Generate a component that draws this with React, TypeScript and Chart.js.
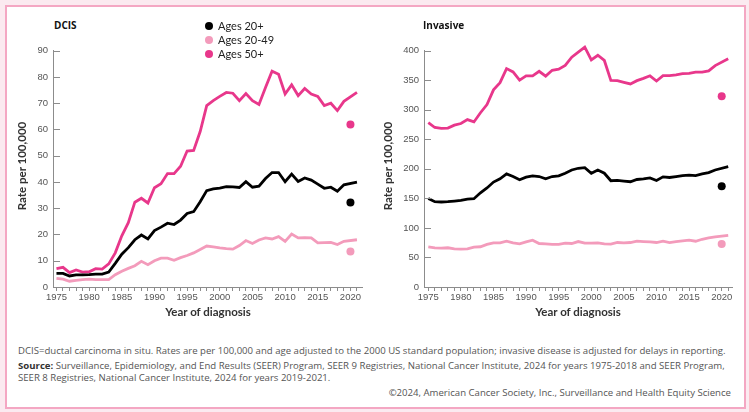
import React, { useEffect, useRef } from "react";
import { Chart, registerables } from "chart.js";

Chart.register(...registerables);

// ---------- data ----------
const years = [
  1975, 1976, 1977, 1978, 1979, 1980, 1981, 1982, 1983, 1984,
  1985, 1986, 1987, 1988, 1989, 1990, 1991, 1992, 1993, 1994,
  1995, 1996, 1997, 1998, 1999, 2000, 2001, 2002, 2003, 2004,
  2005, 2006, 2007, 2008, 2009, 2010, 2011, 2012, 2013, 2014,
  2015, 2016, 2017, 2018, 2019, 2020, 2021,
];
const dotYear = 2020;
const xTickLabels = [1975, 1980, 1985, 1990, 1995, 2000, 2005, 2010, 2015, 2020];

// DCIS (2020 shown separately as a dot)
const dcisAges20plus = [
  5.2, 5.2, 4.2, 4.6, 4.6, 4.7, 4.9, 4.9, 5.7, 9,
  12.5, 15, 18, 19.8, 18.3, 21.5, 22.8, 24.3, 23.8, 25.5,
  28, 28.7, 32.5, 36.7, 37.4, 37.7, 38.2, 38.1, 37.9, 40.1,
  38, 38.4, 41.3, 43.6, 43.6, 40.1, 43, 40.2, 41.5, 40.7,
  39.2, 37.6, 38, 36.5, 38.9, null, 39.9,
];
const dcisAges20to49 = [
  3.3, 3, 2.2, 2.5, 2.8, 3, 2.8, 2.8, 2.8, 4.7,
  6, 7.1, 8.1, 9.8, 8.5, 10, 11, 11, 10.2, 11.2,
  12, 13, 14.3, 15.6, 15.3, 14.9, 14.6, 14.4, 15.8, 17.7,
  16.6, 17.9, 18.7, 18.3, 19.2, 17.4, 20.2, 18.7, 18.8, 18.7,
  16.8, 16.9, 17, 16.2, 17.4, null, 18,
];
const dcisAges50plus = [
  7, 7.5, 5.5, 6.5, 5.7, 5.8, 7, 6.8, 8.8, 13,
  19.5, 24.5, 32.3, 33.8, 32, 37.8, 39.3, 43.2, 43.2, 46,
  51.8, 52, 59.2, 69.1, 71, 72.6, 74.1, 73.8, 71, 73.7,
  71, 69.5, 76, 82.2, 81, 73.5, 77, 72.9, 75.6, 73.5,
  72.6, 69.1, 70, 67.2, 70.7, null, 74.1,
];
const dcisDot2020 = { ages20plus: 32.2, ages20to49: 13.5, ages50plus: 61.9 };

// Invasive
const invAges20plus = [
  150, 144.4, 143.9, 144.4, 145.5, 146.7, 148.9, 149.4, 159.4, 167.7,
  177.6, 183.2, 191.5, 187, 181.5, 186, 188.2, 187, 183.2, 187,
  188.2, 192.6, 198.1, 201, 202, 192.6, 198.1, 192.6, 179.9, 180.4,
  179.3, 178.2, 182, 183.2, 184.8, 180.4, 186.5, 185.4, 187, 188.7,
  189.3, 188.7, 191.5, 193.7, 198.1, null, 203.6,
];
const invAges20to49 = [
  68.1, 66.4, 65.9, 66.4, 64.7, 64.2, 64.7, 67.5, 68.1, 72,
  74.7, 74.7, 77.5, 74.7, 73.1, 76.4, 79.2, 73.6, 73.1, 72,
  72, 74.2, 73.6, 76.9, 74.2, 74.2, 74.7, 73.1, 72.5, 75.3,
  74.7, 75.3, 77.5, 76.9, 76.4, 75.3, 77.5, 75.3, 76.9, 78,
  79.2, 77.5, 80.8, 83, 84.7, null, 87.4,
];
const invAges50plus = [
  278.4, 270, 268.4, 269, 274, 276.7, 283.3, 279.4, 295, 308.8,
  333.7, 345.9, 369.7, 364, 350.3, 357.5, 357.5, 365.2, 357, 366.9,
  368.6, 375.2, 389, 397.4, 406, 384.5, 392.3, 383.5, 349.8, 349.5,
  346.5, 343.7, 349.3, 353.1, 357.5, 348.7, 357.8, 357.8, 359, 361.3,
  361.5, 363.6, 363.6, 365.8, 374.8, null, 386.3,
];
const invDot2020 = { ages20plus: 170.4, ages20to49: 72.8, ages50plus: 322.7 };

const legendLabels = ["Ages 20+", "Ages 20-49", "Ages 50+"];

// ---------- styles ----------
const BLACK = "#000000";
const LIGHT = "#f39bbb";
const MAGENTA = "#e8378b";
const AXIS = "#8c8c8c";
const TICK_TEXT = "#555555";

const inwardTicks = {
  id: "inwardTicks",
  afterDraw(chart: any) {
    const { ctx, chartArea, scales } = chart;
    const y = scales.y;
    ctx.save();
    ctx.strokeStyle = AXIS;
    ctx.lineWidth = 1;
    y.ticks.forEach((t: any) => {
      const py = Math.round(y.getPixelForValue(t.value)) + 0.5;
      ctx.beginPath();
      ctx.moveTo(chartArea.left, py);
      ctx.lineTo(chartArea.left + 7, py);
      ctx.stroke();
    });
    ctx.restore();
  },
};

type PanelProps = {
  left: number;
  top: number;
  width: number;
  height: number;
  s20: (number | null)[];
  s2049: (number | null)[];
  s50: (number | null)[];
  dots: { ages20plus: number; ages20to49: number; ages50plus: number };
  yMax: number;
  yStep: number;
  xMin: number;
  xMax: number;
};

function Panel(p: PanelProps) {
  const ref = useRef<HTMLCanvasElement>(null);
  useEffect(() => {
    const toPts = (arr: (number | null)[]) => years.map((x, i) => ({ x, y: arr[i] }));
    const lineDs = (arr: (number | null)[], color: string) => ({
      data: toPts(arr),
      borderColor: color,
      backgroundColor: color,
      borderWidth: 2.8,
      pointRadius: 0,
      spanGaps: true,
      tension: 0,
      clip: 10,
      borderJoinStyle: "miter" as const,
    });
    const dotDs = (v: number, color: string) => ({
      data: [{ x: dotYear, y: v }],
      showLine: false,
      pointRadius: 4,
      pointBackgroundColor: color,
      pointBorderColor: color,
      pointBorderWidth: 0,
    });
    const tickFont = { family: "'Liberation Sans Narrow', 'Liberation Sans', sans-serif", size: 9.5 };
    const chart = new Chart(ref.current as HTMLCanvasElement, {
      type: "line",
      data: {
        datasets: [
          lineDs(p.s2049, LIGHT),
          lineDs(p.s20, BLACK),
          lineDs(p.s50, MAGENTA),
          dotDs(p.dots.ages20to49, LIGHT),
          dotDs(p.dots.ages20plus, BLACK),
          dotDs(p.dots.ages50plus, MAGENTA),
        ] as any,
      },
      options: {
        animation: false,
        responsive: false,
        maintainAspectRatio: false,
        layout: { padding: { top: 6, right: 4, left: 0, bottom: 0 } },
        plugins: { legend: { display: false }, tooltip: { enabled: false } },
        scales: {
          x: {
            type: "linear",
            min: p.xMin,
            max: p.xMax,
            afterBuildTicks: (s: any) => {
              s.ticks = years.map((v) => ({ value: v }));
            },
            afterFit: (s: any) => {
              s.height = 20;
            },
            grid: { drawOnChartArea: false, drawTicks: true, tickLength: 4, color: AXIS },
            border: { color: AXIS, width: 1 },
            ticks: {
              autoSkip: false,
              maxRotation: 0,
              padding: 1,
              color: TICK_TEXT,
              font: tickFont,
              callback: (v: any) => (xTickLabels.includes(Number(v)) ? String(v) : ""),
            },
          },
          y: {
            type: "linear",
            min: 0,
            max: p.yMax,
            afterFit: (s: any) => {
              s.width = 44;
            },
            grid: { drawOnChartArea: false, drawTicks: false },
            border: { color: AXIS, width: 1 },
            ticks: { stepSize: p.yStep, padding: 5, color: TICK_TEXT, font: tickFont },
          },
        },
      } as any,
      plugins: [inwardTicks],
    });
    return () => chart.destroy();
  }, []);
  return (
    <canvas
      ref={ref}
      width={p.width}
      height={p.height}
      style={{ position: "absolute", left: p.left, top: p.top, width: p.width, height: p.height }}
    />
  );
}

const abs = (left: number, top: number, extra: React.CSSProperties = {}): React.CSSProperties => ({
  position: "absolute",
  left,
  top,
  whiteSpace: "nowrap",
  ...extra,
});

const axisTitleStyle: React.CSSProperties = {
  fontFamily: "Lato, 'Open Sans', sans-serif",
  fontSize: 11.5,
  fontWeight: 700,
  color: "#333",
};

const footStyle: React.CSSProperties = {
  fontFamily: "'Open Sans', sans-serif",
  fontSize: 9.6,
  color: "#555",
  lineHeight: "12px",
};

function Legend() {
  const colors = [BLACK, LIGHT, MAGENTA];
  const rows = [25.5, 39.7, 53.8];
  return (
    <>
      {legendLabels.map((lab, i) => (
        <div key={lab}>
          <div
            style={abs(205, rows[i] - 4, {
              width: 8,
              height: 8,
              borderRadius: 4,
              background: colors[i],
            })}
          />
          <div
            style={abs(218, rows[i] - 8, {
              fontFamily: "Lato, sans-serif",
              fontSize: 11,
              lineHeight: "16px",
              color: "#222",
            })}
          >
            {lab}
          </div>
        </div>
      ))}
    </>
  );
}

export default function App() {
  return (
    <div
      style={{
        position: "fixed",
        left: 0,
        top: 0,
        width: 749,
        height: 412,
        background: "#fbeaf0",
        overflow: "hidden",
      }}
    >
      <div
        style={{
          position: "absolute",
          left: 5,
          top: 5,
          width: 741,
          height: 404,
          background: "#ffffff",
          border: "2px solid #f4a7c3",
          boxSizing: "border-box",
        }}
      />
      <Panel
        left={9}
        top={40}
        width={357}
        height={267}
        s20={dcisAges20plus}
        s2049={dcisAges20to49}
        s50={dcisAges50plus}
        dots={dcisDot2020}
        yMax={90}
        yStep={10}
        xMin={1974.47}
        xMax={2021.77}
      />
      <Panel
        left={380}
        top={40}
        width={356}
        height={267}
        s20={invAges20plus}
        s2049={invAges20to49}
        s50={invAges50plus}
        dots={invDot2020}
        yMax={400}
        yStep={50}
        xMin={1974.34}
        xMax={2021.58}
      />
      {/* panel titles */}
      <div style={abs(54, 18, { fontFamily: "'Open Sans', sans-serif", fontWeight: 700, fontSize: 10, lineHeight: "15px", color: "#111" })}>
        DCIS
      </div>
      <div style={abs(423, 18, { fontFamily: "'Open Sans', sans-serif", fontWeight: 700, fontSize: 10, lineHeight: "15px", color: "#111" })}>
        Invasive
      </div>
      <Legend />
      {/* y axis titles */}
      {[22, 388].map((cx) => (
        <div
          key={cx}
          style={abs(cx - 60, 158, {
            ...axisTitleStyle,
            width: 120,
            height: 16,
            lineHeight: "16px",
            textAlign: "center",
            transform: "rotate(-90deg)",
          })}
        >
          Rate per 100,000
        </div>
      ))}
      {/* x axis titles */}
      {[208, 578].map((cx) => (
        <div
          key={cx}
          style={abs(cx - 80, 304, { ...axisTitleStyle, width: 160, textAlign: "center", lineHeight: "16px" })}
        >
          Year of diagnosis
        </div>
      ))}
      {/* footer */}
      <div style={abs(18, 345, footStyle)}>
        DCIS=ductal carcinoma in situ. Rates are per 100,000 and age adjusted to the 2000 US standard population; invasive disease is adjusted for delays in reporting.
      </div>
      <div style={abs(18, 360, footStyle)}>
        <b style={{ color: "#333" }}>Source:</b> Surveillance, Epidemiology, and End Results (SEER) Program, SEER 9 Registries, National Cancer Institute, 2024 for years 1975-2018 and SEER Program,
      </div>
      <div style={abs(18, 372, footStyle)}>
        SEER 8 Registries, National Cancer Institute, 2024 for years 2019-2021.
      </div>
      <div style={abs(0, 387, { ...footStyle, width: 731, textAlign: "right" })}>
        ©2024, American Cancer Society, Inc., Surveillance and Health Equity Science
      </div>
    </div>
  );
}
